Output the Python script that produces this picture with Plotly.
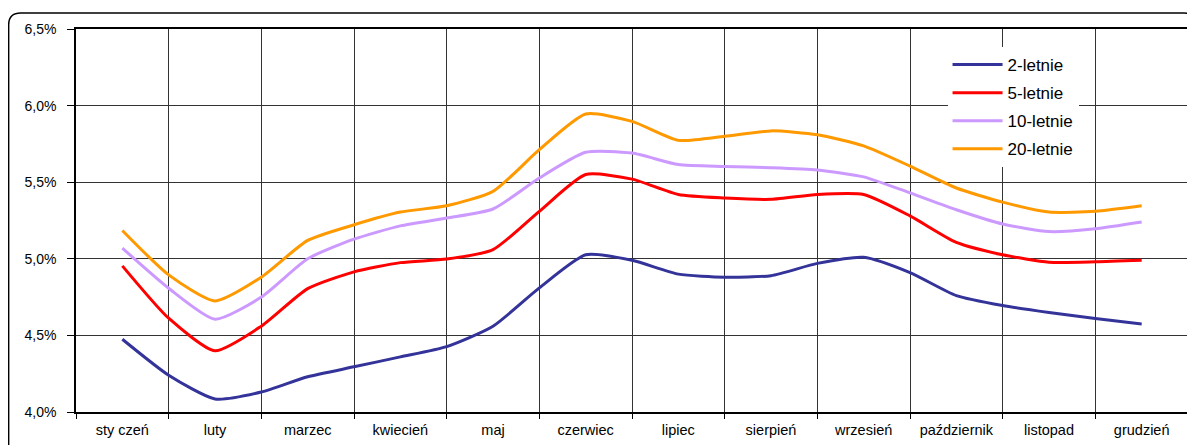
import plotly.graph_objects as go

# month positions (month index units, 0 = start of January)
months_x = [0.5, 1.0, 1.5, 2.0, 2.5, 3.0, 3.5, 4.0, 4.5, 5.0, 5.5, 6.0,
            6.5, 7.0, 7.5, 8.0, 8.5, 9.0, 9.5, 10.0, 10.5, 11.0, 11.5]

month_labels = ["sty czeń", "luty", "marzec", "kwiecień", "maj", "czerwiec",
                "lipiec", "sierpień", "wrzesień", "październik", "listopad", "grudzień"]

y2 = [4.475, 4.24, 4.085, 4.13, 4.23, 4.295, 4.36, 4.427, 4.56, 4.81, 5.026, 4.99,
      4.90, 4.88, 4.89, 4.97, 5.01, 4.91, 4.76, 4.695, 4.65, 4.61, 4.575]
y5 = [4.954, 4.612, 4.40, 4.56, 4.805, 4.915, 4.975, 4.998, 5.06, 5.31, 5.55, 5.52,
      5.42, 5.397, 5.388, 5.42, 5.42, 5.28, 5.107, 5.026, 4.978, 4.98, 4.99]
y10 = [5.07, 4.808, 4.606, 4.75, 5.00, 5.128, 5.215, 5.266, 5.325, 5.527, 5.695, 5.69,
       5.615, 5.603, 5.595, 5.58, 5.535, 5.43, 5.32, 5.227, 5.178, 5.196, 5.24]
y20 = [5.185, 4.895, 4.725, 4.88, 5.12, 5.222, 5.305, 5.346, 5.44, 5.712, 5.945, 5.897,
       5.773, 5.80, 5.835, 5.81, 5.737, 5.605, 5.462, 5.37, 5.305, 5.31, 5.346]

series = [("2-letnie", y2, "#333399"),
          ("5-letnie", y5, "#FF0000"),
          ("10-letnie", y10, "#CC99FF"),
          ("20-letnie", y20, "#FF9900")]

y_ticks = [4.0, 4.5, 5.0, 5.5, 6.0, 6.5]
y_ticktext = ["4,0%", "4,5%", "5,0%", "5,5%", "6,0%", "6,5%"]

FONT = "Liberation Sans, Arial, sans-serif"

fig = go.Figure()
for name, vals, color in series:
    fig.add_trace(go.Scatter(x=months_x, y=vals, name=name, mode="lines", legendgroup=name,
                             line=dict(color=color, width=3, shape="spline", smoothing=0.6)))

# page body has an 8px margin: figure coordinates = screen coordinates - 8
OFF = 8
W, H = 1195 - OFF, 445 - OFF
L, R, T, B = 75.5, 1190, 29, 412  # plot area in screen coordinates

def px(x):
    return (x - L) / (R - L)

def py(y):
    return (B - y) / (B - T)

# rounded outer frame (screen coordinates)
r = 12
frame = (f"M {px(8)},{py(470)} L {px(8)},{py(13 + r)} "
         f"Q {px(8)},{py(13)} {px(8 + r)},{py(13)} "
         f"L {px(1186)},{py(13)} Q {px(1198)},{py(13)} {px(1198)},{py(13 + r)} "
         f"L {px(1198)},{py(470)}")

fig.update_layout(
    width=W, height=H,
    margin=dict(l=L - OFF, r=W - (R - OFF), t=T - OFF, b=H - (B - OFF), pad=0),
    paper_bgcolor="white", plot_bgcolor="white",
    font=dict(family=FONT, color="black", size=13),
    showlegend=True,
    legend=dict(x=px(949), y=py(47), xanchor="left", yanchor="top",
                bgcolor="white", borderwidth=0,
                font=dict(size=17, family=FONT, color="black"),
                itemwidth=50, tracegroupgap=3),
    xaxis=dict(range=[0, 12], tickmode="array",
               tickvals=[m + 0.5 for m in range(12)], ticktext=month_labels,
               ticks="", showgrid=False, zeroline=False,
               showline=True, linecolor="black", linewidth=1.5, mirror=True,
               tickfont=dict(size=14.5, family=FONT), ticklabelstandoff=4,
               minor=dict(tickmode="array", tickvals=list(range(13)),
                          showgrid=True, gridcolor="#333333", gridwidth=1,
                          ticks="outside", ticklen=5, tickcolor="black")),
    yaxis=dict(range=[4.0, 6.5], tickmode="array", tickvals=y_ticks, ticktext=y_ticktext,
               showgrid=True, gridcolor="#333333", gridwidth=1, zeroline=False,
               showline=True, linecolor="black", linewidth=1.5, mirror=True,
               ticks="outside", ticklen=7, tickcolor="black", ticklabelstandoff=8,
               tickfont=dict(size=14, family=FONT)),
    shapes=[dict(type="path", path=frame, xref="paper", yref="paper",
                 line=dict(color="black", width=1.5), layer="above")],
)

fig.write_html("out.html")
